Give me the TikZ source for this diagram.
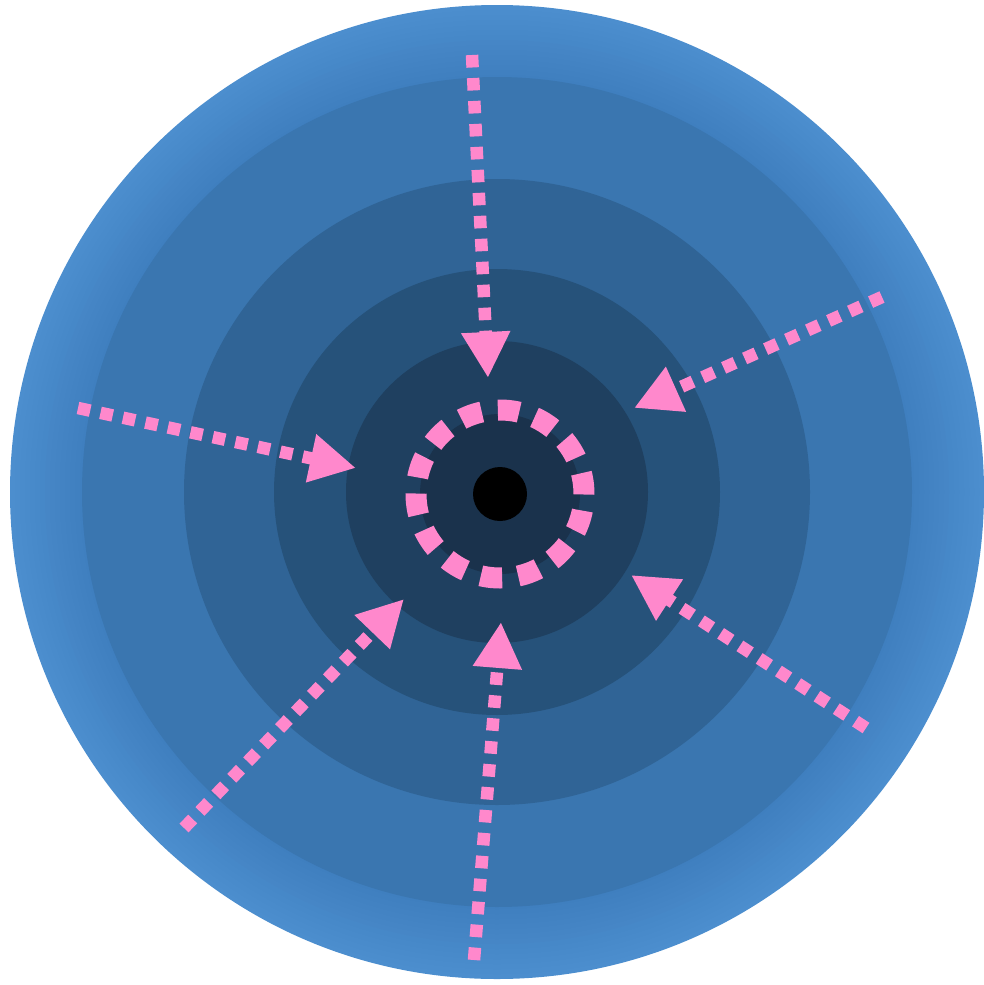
\documentclass[tikz,border=0pt]{standalone}
\usetikzlibrary{arrows.meta}
\definecolor{ringAo}{RGB}{76,142,206}
\definecolor{ringAi}{RGB}{63,127,191}
\definecolor{ringB}{RGB}{58,118,176}
\definecolor{ringC}{RGB}{48,100,150}
\definecolor{ringD}{RGB}{38,82,122}
\definecolor{ringE}{RGB}{31,64,96}
\definecolor{ringF}{RGB}{26,50,76}
\definecolor{pinkc}{RGB}{255,136,204}
\begin{document}
\begin{tikzpicture}[x=1pt,y=-1pt,
  flow/.style={draw=pinkc, line width=12.5pt, dash pattern=on 12.5pt off 10.5pt,
    -{Triangle[length=46pt,width=46pt]}},
  halo/.style={draw=pinkc, line width=21pt, dash pattern=on 21.5pt off 16.2pt, dash phase=21pt}]
\useasboundingbox (0,0) rectangle (984,985);
\coordinate (c) at (497,492);
\coordinate (k) at (500,494);
\foreach \j in {0,...,14}{
  \pgfmathsetmacro\rr{487-\j*5}
  \pgfmathsetmacro\pp{100-\j*100/14}
  \fill[ringAo!\pp!ringAi] (c) circle (\rr);
}
\fill[ringB] (c) circle (415);
\fill[ringC] (c) circle (313);
\fill[ringD] (c) circle (223);
\fill[ringE] (c) circle (151);
\fill[ringF] (k) circle (80);
\draw[halo] (k) circle (84);
\fill[black] (k) circle (27);
\coordinate (s1) at (472,55);  \coordinate (t1) at (488,378);
\coordinate (s2) at (882,297); \coordinate (t2) at (634,408);
\coordinate (s3) at (78,408);  \coordinate (t3) at (356,468);
\coordinate (s4) at (184,828); \coordinate (t4) at (404,599);
\coordinate (s5) at (474,960); \coordinate (t5) at (501,622);
\coordinate (s6) at (866,728); \coordinate (t6) at (631,575);
\foreach \i in {1,...,6} \draw[flow] (s\i) -- (t\i);
\end{tikzpicture}
\end{document}
